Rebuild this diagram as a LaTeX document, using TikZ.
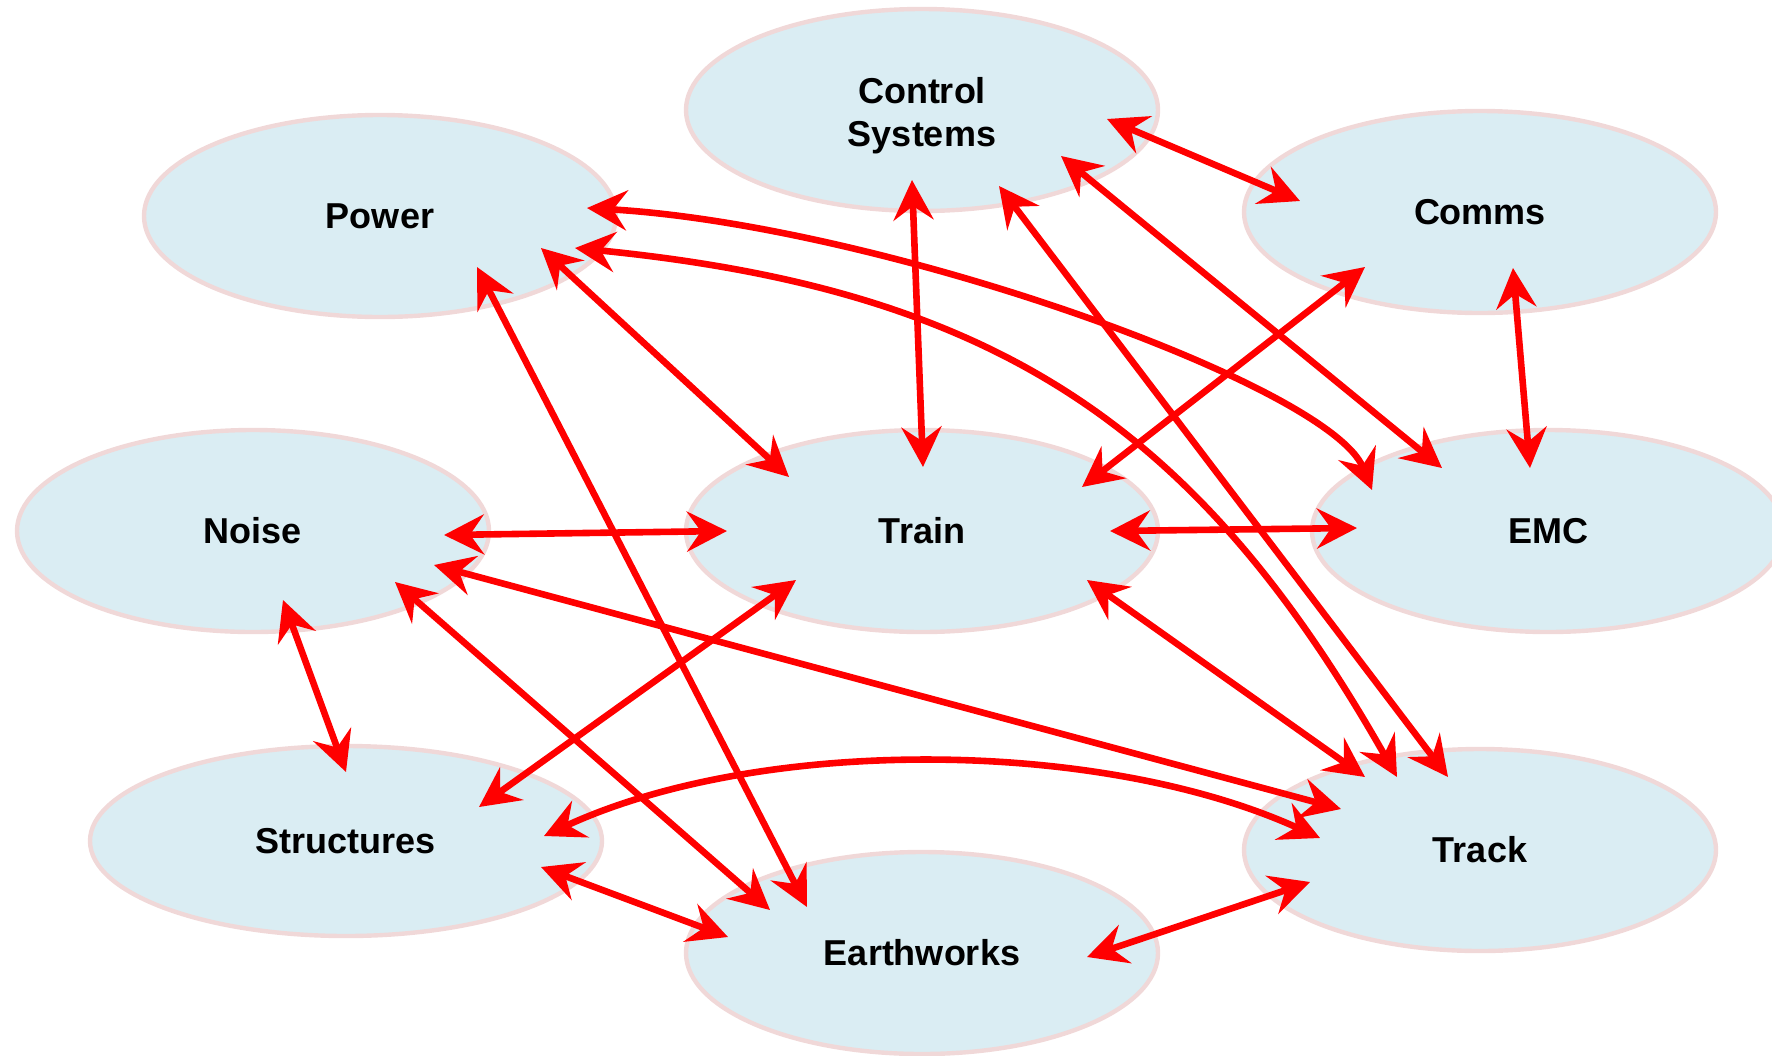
\documentclass[tikz,border=0pt]{standalone}
\usepackage{fontspec}
\setmainfont{Liberation Sans}
\usetikzlibrary{arrows.meta,shapes.geometric}
\definecolor{bubblefill}{RGB}{218,237,243}
\definecolor{bubbleedge}{RGB}{240,216,216}
\definecolor{linkred}{RGB}{255,0,0}
\begin{document}
\begin{tikzpicture}[x=0.5pt,y=-0.5pt,
  labeltext/.style={inner sep=0pt, font=\fontsize{18}{21.5}\selectfont\bfseries, align=center, text=black},
  bubble/.style={ellipse, draw=bubbleedge, line width=2.2pt, fill=bubblefill,
    minimum width=236pt, minimum height=101pt, inner sep=0pt, labeltext},
  link/.style={draw=linkred, line width=3.3pt,
    {Stealth[length=20pt,width=20pt,inset=7pt]}-{Stealth[length=20pt,width=20pt,inset=7pt]}}]
\useasboundingbox (0,0) rectangle (1772,1055);
\clip (0,0) rectangle (1772,1055);

% subsystem bubbles
\node[bubble] (ctrl)   at (922,110) {};
\node[labeltext] (ctrltext) at ([shift={(0,6)}]ctrl.center) {Control\\Systems};
\node[bubble] (power)  at (380,216) {Power};
\node[bubble] (comms)  at (1480,212) {Comms};
\node[bubble] (noise)  at (253,531) {Noise};
\node[bubble] (train)  at (922,531) {Train};
\node[bubble] (emc)    at (1548,531) {EMC};
\node[bubble, minimum width=256pt, minimum height=95pt] (struct) at (346,841) {Structures};
\node[bubble] (earth)  at (922,953) {Earthworks};
\node[bubble] (track)  at (1480,850) {Track};

% interfaces between subsystems
\draw[link] ([shift={(185,9)}]ctrl.center) -- ([shift={(-180,-11)}]comms.center);
\draw[link] ([shift={(-10,70)}]ctrl.center) -- ([shift={(1,-64)}]train.center);
\draw[link] ([shift={(77,76)}]ctrl.center) -- ([shift={(-32,-73)}]track.center);
\draw[link] ([shift={(139,46)}]ctrl.center) -- ([shift={(-106,-63)}]emc.center);

\draw[link] ([shift={(207,-8)}]power.center) .. controls +(293,17) and +(-42,-105) .. ([shift={(-176,-41)}]emc.center);
\draw[link] ([shift={(195,32)}]power.center) .. controls +(425,42) and +(-197,-347) .. ([shift={(-83,-73)}]track.center);
\draw[link] ([shift={(161,32)}]power.center) -- ([shift={(-133,-54)}]train.center);
\draw[link] ([shift={(97,51)}]power.center) -- ([shift={(-115,-46)}]earth.center);

\draw[link] ([shift={(-115,55)}]comms.center) -- ([shift={(160,-44)}]train.center);
\draw[link] ([shift={(33,56)}]comms.center) -- ([shift={(-18,-63)}]emc.center);

\draw[link] ([shift={(191,4)}]noise.center) -- ([shift={(-195,0)}]train.center);
\draw[link] ([shift={(188,0)}]train.center) -- ([shift={(-191,-3)}]emc.center);
\draw[link] ([shift={(181,34)}]noise.center) -- ([shift={(-139,-41)}]track.center);
\draw[link] ([shift={(142,51)}]noise.center) -- ([shift={(-152,-43)}]earth.center);
\draw[link] ([shift={(30,69)}]noise.center) -- ([shift={(0,-69)}]struct.center);

\draw[link] ([shift={(-126,49)}]train.center) -- ([shift={(133,-34)}]struct.center);
\draw[link] ([shift={(165,49)}]train.center) -- ([shift={(-115,-73)}]track.center);

\draw[link] ([shift={(198,-5)}]struct.center) .. controls +(216,-100) and +(-220,-100) .. ([shift={(-160,-12)}]track.center);
\draw[link] ([shift={(195,26)}]struct.center) -- ([shift={(-194,-16)}]earth.center);
\draw[link] ([shift={(165,4)}]earth.center) -- ([shift={(-170,32)}]track.center);
\end{tikzpicture}
\end{document}
